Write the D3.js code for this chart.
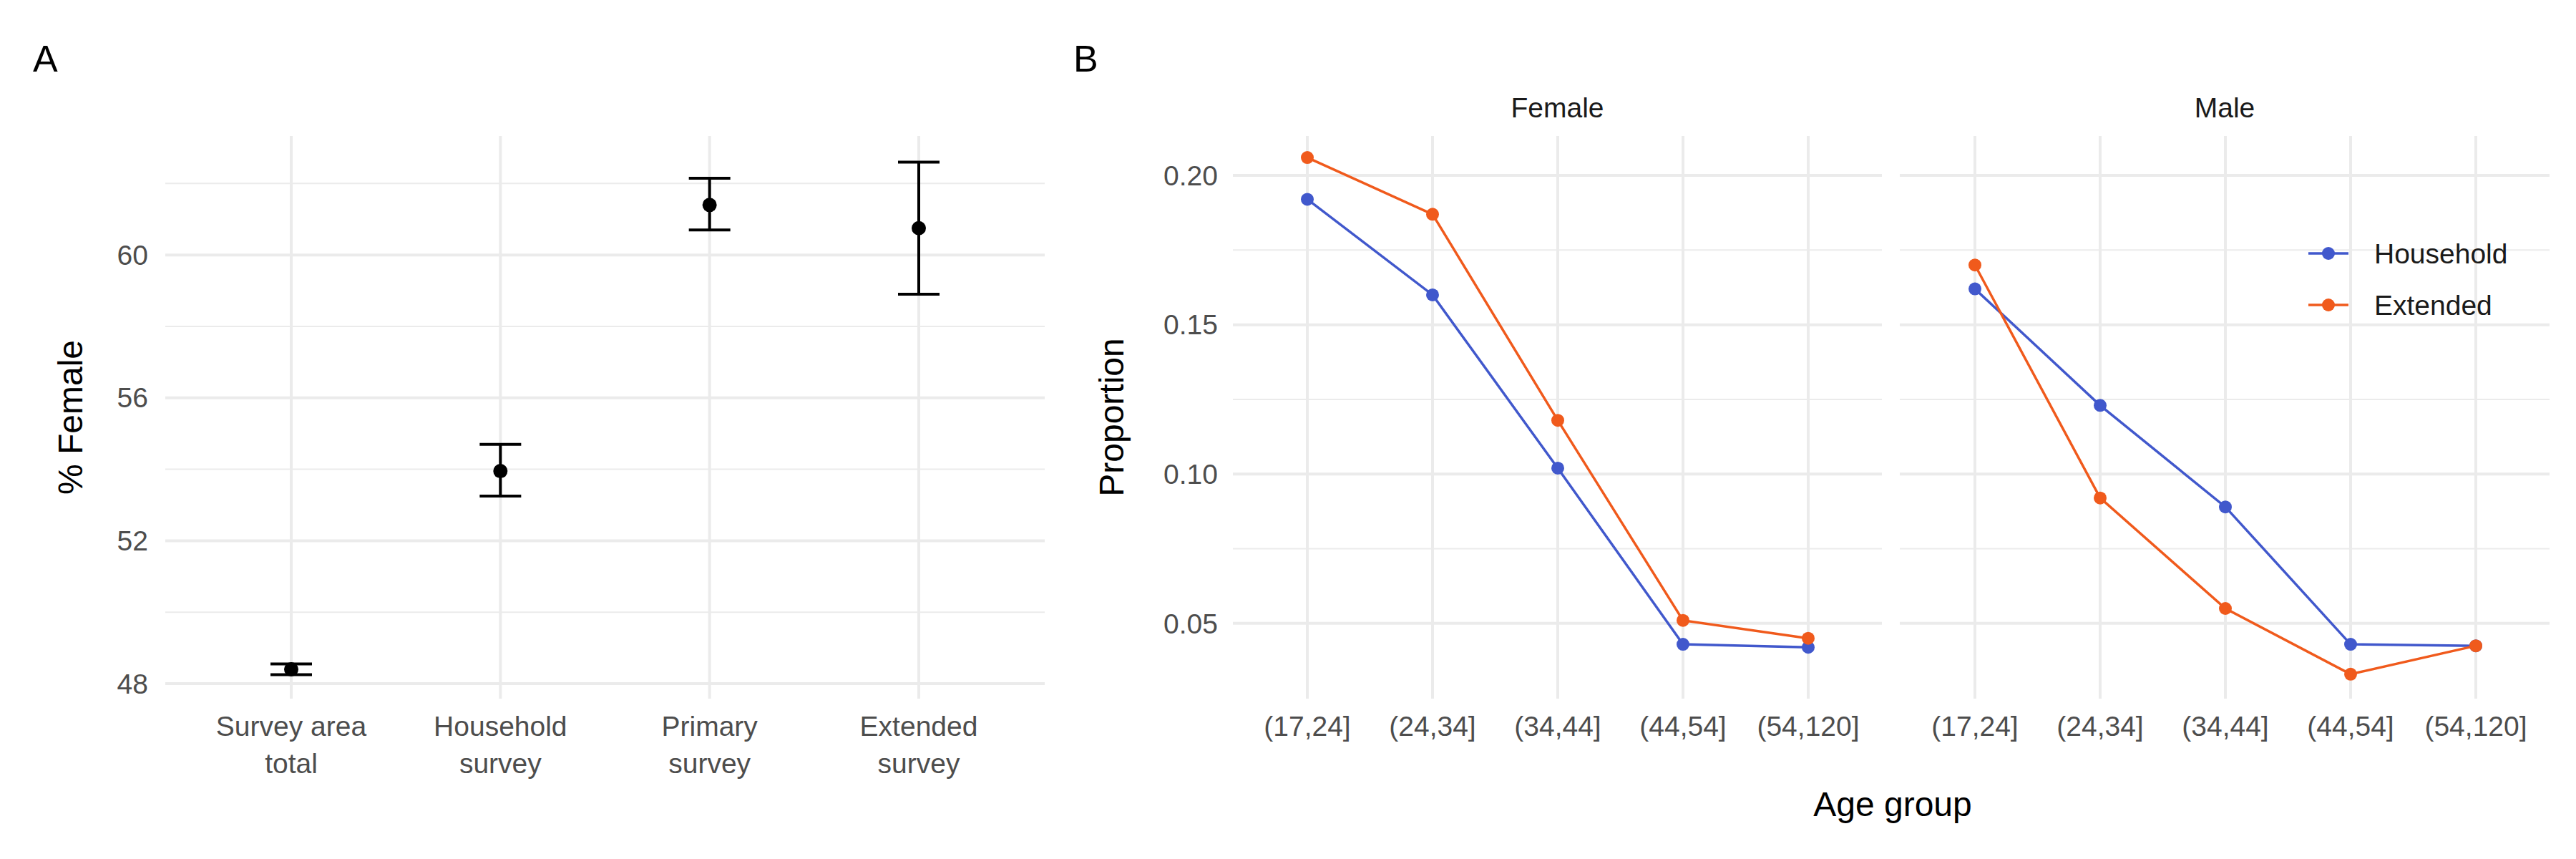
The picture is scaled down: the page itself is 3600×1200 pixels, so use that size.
<!DOCTYPE html>
<html>
<head>
<script src="https://d3js.org/d3.v7.min.js"></script>
<style>body{margin:0;background:#fff}text{font-family:"Liberation Sans",Arial,sans-serif}</style>
</head>
<body>
<svg width="3600" height="1200"></svg>
<script>
var surveys = ["Survey area|total", "Household|survey", "Primary|survey", "Extended|survey"];
var pctFemale = [48.4, 53.95, 61.4, 60.75];
var pctLow = [48.25, 53.25, 60.7, 58.9];
var pctHigh = [48.55, 54.7, 62.15, 62.6];

var ageGroups = ["(17,24]", "(24,34]", "(34,44]", "(44,54]", "(54,120]"];
var sexes = ["Female", "Male"];
var seriesNames = ["Household", "Extended"];
var seriesColors = ["#4158cc", "#f05a1c"];
var femaleHousehold = [0.192, 0.160, 0.102, 0.043, 0.042];
var femaleExtended = [0.206, 0.187, 0.118, 0.051, 0.045];
var maleHousehold = [0.162, 0.123, 0.089, 0.043, 0.0425];
var maleExtended = [0.170, 0.092, 0.055, 0.033, 0.0425];

var svg = d3.select("svg");
var grid = "#ebebeb", tickCol = "#4d4d4d";

// ---- Panel A
var xa = d3.scalePoint().domain(surveys).range([407, 1284]);
var ya = d3.scaleLinear().domain([47.58, 63.33]).range([976, 190]);
var ga = svg.append("g");
[50, 54, 58, 62].forEach(function(v) {
  ga.append("line").attr("x1", 231).attr("x2", 1460).attr("y1", ya(v)).attr("y2", ya(v)).attr("stroke", grid).attr("stroke-width", 2);
});
[48, 52, 56, 60].forEach(function(v) {
  ga.append("line").attr("x1", 231).attr("x2", 1460).attr("y1", ya(v)).attr("y2", ya(v)).attr("stroke", grid).attr("stroke-width", 4);
  ga.append("text").attr("x", 207).attr("y", ya(v)).attr("dy", "0.35em").attr("text-anchor", "end").attr("font-size", 39).attr("fill", tickCol).text(v);
});
surveys.forEach(function(s, i) {
  var x = xa(s);
  ga.append("line").attr("x1", x).attr("x2", x).attr("y1", 190).attr("y2", 976).attr("stroke", grid).attr("stroke-width", 4);
  s.split("|").forEach(function(t, j) {
    ga.append("text").attr("x", x).attr("y", 1028 + j * 52).attr("text-anchor", "middle").attr("font-size", 39).attr("fill", tickCol).text(t);
  });
  ga.append("line").attr("x1", x).attr("x2", x).attr("y1", ya(pctLow[i])).attr("y2", ya(pctHigh[i])).attr("stroke", "#000").attr("stroke-width", 4);
  [pctLow[i], pctHigh[i]].forEach(function(v) {
    ga.append("line").attr("x1", x - 29).attr("x2", x + 29).attr("y1", ya(v)).attr("y2", ya(v)).attr("stroke", "#000").attr("stroke-width", 4);
  });
  ga.append("circle").attr("cx", x).attr("cy", ya(pctFemale[i])).attr("r", 10).attr("fill", "#000");
});
svg.append("text").attr("transform", "translate(115,583) rotate(-90)").attr("text-anchor", "middle").attr("font-size", 48).text("% Female");
svg.append("text").attr("x", 46).attr("y", 100).attr("font-size", 52).text("A");

// ---- Panel B
var yb = d3.scaleLinear().domain([0.0248, 0.2132]).range([976, 190]);
var panels = [
  {name: "Female", x0: 1723, x1: 2630, r0: 1827, r1: 2527, data: [femaleHousehold, femaleExtended]},
  {name: "Male", x0: 2655, x1: 3563, r0: 2760, r1: 3460, data: [maleHousehold, maleExtended]}
];
panels.forEach(function(p) {
  var g = svg.append("g");
  var xb = d3.scalePoint().domain(ageGroups).range([p.r0, p.r1]);
  [0.075, 0.125, 0.175].forEach(function(v) {
    g.append("line").attr("x1", p.x0).attr("x2", p.x1).attr("y1", yb(v)).attr("y2", yb(v)).attr("stroke", grid).attr("stroke-width", 2);
  });
  [0.05, 0.10, 0.15, 0.20].forEach(function(v) {
    g.append("line").attr("x1", p.x0).attr("x2", p.x1).attr("y1", yb(v)).attr("y2", yb(v)).attr("stroke", grid).attr("stroke-width", 4);
  });
  ageGroups.forEach(function(a) {
    g.append("line").attr("x1", xb(a)).attr("x2", xb(a)).attr("y1", 190).attr("y2", 976).attr("stroke", grid).attr("stroke-width", 4);
    g.append("text").attr("x", xb(a)).attr("y", 1028).attr("text-anchor", "middle").attr("font-size", 39).attr("fill", tickCol).text(a);
  });
  g.append("text").attr("x", (p.x0 + p.x1) / 2).attr("y", 164).attr("text-anchor", "middle").attr("font-size", 39).attr("fill", "#1a1a1a").text(p.name);
  p.data.forEach(function(vals, k) {
    var line = d3.line().x(function(d, i) { return xb(ageGroups[i]); }).y(function(d) { return yb(d); });
    g.append("path").attr("d", line(vals)).attr("fill", "none").attr("stroke", seriesColors[k]).attr("stroke-width", 3.5);
    vals.forEach(function(v, i) {
      g.append("circle").attr("cx", xb(ageGroups[i])).attr("cy", yb(v)).attr("r", 9).attr("fill", seriesColors[k]);
    });
  });
});
[0.05, 0.10, 0.15, 0.20].forEach(function(v) {
  svg.append("text").attr("x", 1702).attr("y", yb(v)).attr("dy", "0.35em").attr("text-anchor", "end").attr("font-size", 39).attr("fill", tickCol).text(v.toFixed(2));
});
svg.append("text").attr("transform", "translate(1570,583) rotate(-90)").attr("text-anchor", "middle").attr("font-size", 48).text("Proportion");
svg.append("text").attr("x", 2645).attr("y", 1140).attr("text-anchor", "middle").attr("font-size", 48).text("Age group");
svg.append("text").attr("x", 1500).attr("y", 100).attr("font-size", 52).text("B");

// legend
seriesNames.forEach(function(n, k) {
  var y = 354 + k * 72;
  svg.append("line").attr("x1", 3226).attr("x2", 3282).attr("y1", y).attr("y2", y).attr("stroke", seriesColors[k]).attr("stroke-width", 3.5);
  svg.append("circle").attr("cx", 3254).attr("cy", y).attr("r", 9).attr("fill", seriesColors[k]);
  svg.append("text").attr("x", 3318).attr("y", y).attr("dy", "0.35em").attr("font-size", 39).attr("fill", "#1a1a1a").text(n);
});
</script>
</body>
</html>
